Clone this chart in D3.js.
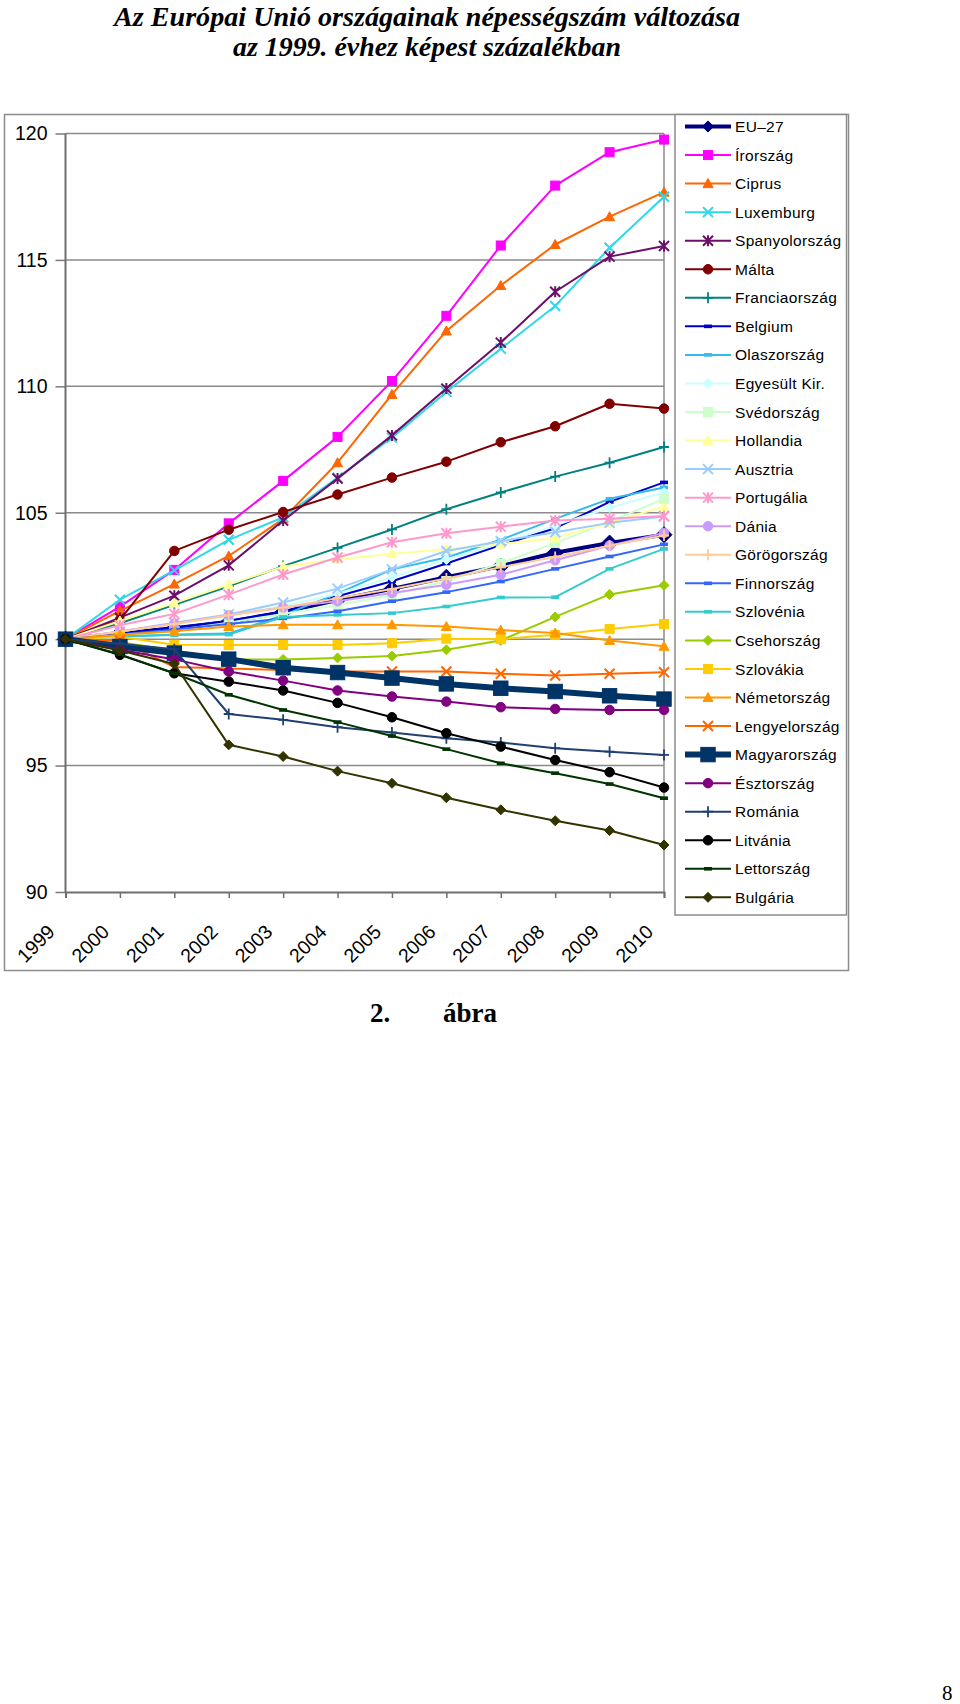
<!DOCTYPE html>
<html>
<head>
<meta charset="utf-8">
<script src="https://cdn.jsdelivr.net/npm/d3@7/dist/d3.min.js"></script>
<style>
  html, body { margin: 0; padding: 0; background: #fff; }
  svg { display: block; }
</style>
</head>
<body>
<svg id="chart" width="960" height="1704"></svg>
<script>
// ---------------- DATA ----------------
const years = ["1999","2000","2001","2002","2003","2004","2005","2006","2007","2008","2009","2010"];
const yTicks = [90, 95, 100, 105, 110, 115, 120];

const seriesNames = ["EU–27","Írország","Ciprus","Luxemburg","Spanyolország","Málta","Franciaország",
  "Belgium","Olaszország","Egyesült Kir.","Svédország","Hollandia","Ausztria","Portugália","Dánia",
  "Görögország","Finnország","Szlovénia","Csehország","Szlovákia","Németország","Lengyelország",
  "Magyarország","Észtország","Románia","Litvánia","Lettország","Bulgária"];

const eu27      = [100, 100.23, 100.43, 100.68, 101.07, 101.55, 101.99, 102.45, 102.89, 103.42, 103.80, 104.13];
const irorszag  = [100, 101.29, 102.74, 104.58, 106.26, 108.00, 110.21, 112.79, 115.57, 117.94, 119.26, 119.76];
const ciprus    = [100, 101.12, 102.18, 103.29, 104.76, 106.98, 109.68, 112.19, 113.99, 115.61, 116.71, 117.68];
const luxemburg = [100, 101.56, 102.72, 103.93, 104.82, 106.39, 107.97, 109.78, 111.49, 113.18, 115.48, 117.50];
const spanyol   = [100, 100.85, 101.72, 102.92, 104.69, 106.35, 108.06, 109.91, 111.73, 113.74, 115.13, 115.55];
const malta     = [100, 100.76, 103.49, 104.33, 105.03, 105.72, 106.39, 107.02, 107.79, 108.42, 109.31, 109.12];
const francia   = [100, 100.63, 101.36, 102.09, 102.89, 103.61, 104.34, 105.14, 105.80, 106.43, 106.98, 107.60];
const belgium   = [100, 100.22, 100.45, 100.73, 101.09, 101.70, 102.29, 102.99, 103.72, 104.39, 105.43, 106.20];
const olasz     = [100, 100.10, 100.18, 100.22, 100.95, 101.80, 102.76, 103.23, 103.93, 104.76, 105.55, 106.00];
const egyesult  = [100, 100.30, 100.60, 100.95, 101.30, 101.80, 102.45, 103.15, 103.80, 104.50, 105.20, 105.80];
const sved      = [100, 100.10, 100.35, 100.65, 101.00, 101.35, 101.75, 102.30, 103.00, 103.80, 104.65, 105.55];
const holland   = [100, 100.72, 101.43, 102.16, 102.87, 103.15, 103.38, 103.56, 103.76, 104.00, 104.60, 105.25];
const ausztria  = [100, 100.30, 100.65, 100.98, 101.45, 102.00, 102.76, 103.49, 103.87, 104.23, 104.60, 104.85];
const portugal  = [100, 100.55, 101.00, 101.76, 102.56, 103.23, 103.83, 104.19, 104.45, 104.69, 104.76, 104.87];
const dania     = [100, 100.30, 100.62, 100.95, 101.25, 101.50, 101.83, 102.15, 102.55, 103.12, 103.70, 104.20];
const gorog     = [100, 100.30, 100.60, 100.95, 101.25, 101.62, 101.98, 102.40, 102.85, 103.25, 103.70, 104.10];
const finn      = [100, 100.18, 100.38, 100.60, 100.82, 101.10, 101.50, 101.86, 102.28, 102.78, 103.27, 103.75];
const szloven   = [100, 100.12, 100.16, 100.18, 100.88, 100.96, 101.03, 101.29, 101.65, 101.66, 102.78, 103.57];
const cseh      = [100, 99.88, 99.55, 99.20, 99.20, 99.26, 99.33, 99.58, 99.95, 100.88, 101.77, 102.13];
const szlovak   = [100, 100.10, 99.78, 99.77, 99.77, 99.77, 99.84, 100.02, 100.00, 100.17, 100.40, 100.60];
const nemet     = [100, 100.17, 100.31, 100.50, 100.57, 100.57, 100.57, 100.50, 100.36, 100.24, 99.95, 99.72];
const lengyel   = [100, 99.95, 98.90, 98.84, 98.78, 98.72, 98.72, 98.72, 98.63, 98.56, 98.63, 98.69];
const magyar    = [100, 99.71, 99.45, 99.21, 98.87, 98.68, 98.46, 98.23, 98.06, 97.93, 97.76, 97.63];
const esztor    = [100, 99.58, 99.20, 98.72, 98.36, 97.97, 97.73, 97.53, 97.31, 97.24, 97.20, 97.20];
const roman     = [100, 99.82, 99.60, 97.04, 96.81, 96.52, 96.31, 96.08, 95.91, 95.69, 95.55, 95.42];
const litvan    = [100, 99.38, 98.65, 98.32, 97.97, 97.48, 96.91, 96.28, 95.75, 95.22, 94.74, 94.13];
const letto     = [100, 99.40, 98.65, 97.80, 97.20, 96.72, 96.17, 95.65, 95.09, 94.70, 94.27, 93.71];
const bulgar    = [100, 99.55, 99.02, 95.82, 95.36, 94.78, 94.30, 93.73, 93.25, 92.82, 92.43, 91.86];

const seriesValues = [eu27, irorszag, ciprus, luxemburg, spanyol, malta, francia, belgium, olasz,
  egyesult, sved, holland, ausztria, portugal, dania, gorog, finn, szloven, cseh, szlovak, nemet,
  lengyel, magyar, esztor, roman, litvan, letto, bulgar];

// ---------------- STYLES ----------------
const seriesColors = ["#000080","#FF00FF","#FF6600","#2ED8E8","#6B0F6B","#800000","#008080",
  "#0000CC","#33BBEE","#CCFFFF","#CCFFCC","#FFFF99","#99CCFF","#FF99CC","#CC99FF",
  "#FFCC99","#3366FF","#33CCCC","#99CC00","#FFCC00","#FF9900","#FF6600",
  "#003366","#800080","#1F4070","#000000","#003300","#333300"];
const seriesMarkers = ["diamond","square","triangle","x","star","circle","plus",
  "dash","dash","diamond","square","triangle","x","star","circle",
  "plus","dash","dash","diamond","square","triangle","x",
  "square","circle","plus","circle","dash","diamond"];
const seriesWidths = seriesNames.map((n,i) => i === 0 ? 4 : (i === 22 ? 6 : 2));
const markerSizes  = seriesNames.map((n,i) => (i === 0 || i === 22) ? 16 : 10);

// ---------------- LAYOUT ----------------
const svg = d3.select("#chart");
svg.append("rect").attr("width", 960).attr("height", 1704).attr("fill", "#fff");

const plotL = 65.5, plotR = 664, plotT = 133.5, plotB = 892;
const x = d3.scalePoint().domain(years).range([plotL, plotR]);
const y = d3.scaleLinear().domain([90, 120]).range([plotB, plotT]);

// Title
const titleFont = "'Liberation Serif','Times New Roman',serif";
svg.append("text").attr("x", 427).attr("y", 26).attr("text-anchor", "middle")
  .attr("font-family", titleFont).attr("font-weight", "bold").attr("font-style", "italic")
  .attr("font-size", 28).attr("textLength", 626).attr("lengthAdjust", "spacingAndGlyphs")
  .text("Az Európai Unió országainak népességszám változása");
svg.append("text").attr("x", 427).attr("y", 56).attr("text-anchor", "middle")
  .attr("font-family", titleFont).attr("font-weight", "bold").attr("font-style", "italic")
  .attr("font-size", 28).attr("textLength", 388).attr("lengthAdjust", "spacingAndGlyphs")
  .text("az 1999. évhez képest százalékban");

// Chart outer border
svg.append("rect").attr("x", 4.5).attr("y", 114.5).attr("width", 844).attr("height", 856)
  .attr("fill", "none").attr("stroke", "#8c8c8c").attr("stroke-width", 1.5);

// Gridlines + y axis
const gy = svg.append("g").attr("transform", `translate(${plotL},0)`)
  .call(d3.axisLeft(y).tickValues(yTicks).tickSize(10).tickFormat(d3.format("d")));
gy.select(".domain").remove();
gy.selectAll(".tick line").attr("stroke", "#7a7a7a").attr("stroke-width", 1.5);
gy.selectAll(".tick text").attr("x", -18).attr("font-family", "'Liberation Sans',Arial,sans-serif")
  .attr("font-size", 19.5).attr("fill", "#000");
svg.append("g").selectAll("line").data(yTicks.filter(t => t > 90)).join("line")
  .attr("x1", plotL).attr("x2", plotR).attr("y1", d => y(d)).attr("y2", d => y(d))
  .attr("stroke", "#8a8a8a").attr("stroke-width", 1.5);
// right border of plot area
svg.append("line").attr("x1", plotR).attr("x2", plotR).attr("y1", plotT).attr("y2", plotB)
  .attr("stroke", "#8a8a8a").attr("stroke-width", 1.5);
// y axis line
svg.append("line").attr("x1", plotL).attr("x2", plotL).attr("y1", plotT).attr("y2", plotB)
  .attr("stroke", "#6e6e6e").attr("stroke-width", 2);

// x axis
const gx = svg.append("g").attr("transform", `translate(0,${plotB})`)
  .call(d3.axisBottom(x).tickSize(6));
gx.select(".domain").attr("stroke", "#6e6e6e").attr("stroke-width", 2);
gx.selectAll(".tick line").attr("stroke", "#6e6e6e").attr("stroke-width", 1.5);
gx.selectAll(".tick text").attr("font-family", "'Liberation Sans',Arial,sans-serif")
  .attr("font-size", 19.5).attr("fill", "#000")
  .attr("text-anchor", "end").attr("dy", null).attr("y", null)
  .attr("transform", "translate(-10,41) rotate(-45)");

// Marker drawing
function drawMarker(g, type, color, size, cx, cy) {
  const s = size / 2;
  if (type === "square") {
    g.append("rect").attr("x", cx - s * 0.9).attr("y", cy - s * 0.9)
      .attr("width", s * 1.8).attr("height", s * 1.8).attr("fill", color).attr("stroke", color);
  } else if (type === "diamond") {
    g.append("path").attr("d", `M${cx},${cy - s}L${cx + s},${cy}L${cx},${cy + s}L${cx - s},${cy}Z`)
      .attr("fill", color).attr("stroke", color);
  } else if (type === "triangle") {
    g.append("path").attr("d", `M${cx},${cy - s}L${cx + s},${cy + s * 0.8}L${cx - s},${cy + s * 0.8}Z`)
      .attr("fill", color).attr("stroke", color);
  } else if (type === "circle") {
    g.append("circle").attr("cx", cx).attr("cy", cy).attr("r", s * 0.95)
      .attr("fill", color).attr("stroke", color);
  } else if (type === "x" || type === "star") {
    g.append("path").attr("d", `M${cx - s},${cy - s}L${cx + s},${cy + s}M${cx - s},${cy + s}L${cx + s},${cy - s}`
      + (type === "star" ? `M${cx},${cy - s * 1.1}L${cx},${cy + s * 1.1}` : ""))
      .attr("stroke", color).attr("stroke-width", 2).attr("fill", "none");
  } else if (type === "plus") {
    g.append("path").attr("d", `M${cx - s},${cy}L${cx + s},${cy}M${cx},${cy - s * 1.1}L${cx},${cy + s * 1.1}`)
      .attr("stroke", color).attr("stroke-width", 1.8).attr("fill", "none");
  } else if (type === "dash") {
    g.append("rect").attr("x", cx - s * 0.8).attr("y", cy - 1.8)
      .attr("width", s * 1.6).attr("height", 3.6).attr("fill", color);
  }
}

// Series
const line = d3.line().x((d, i) => x(years[i])).y(d => y(d));
const plotG = svg.append("g");
seriesValues.forEach((vals, k) => {
  const g = plotG.append("g");
  g.append("path").attr("d", line(vals)).attr("fill", "none")
    .attr("stroke", seriesColors[k]).attr("stroke-width", seriesWidths[k])
    .attr("stroke-linejoin", "round");
  vals.forEach((v, i) => drawMarker(g, seriesMarkers[k], seriesColors[k], markerSizes[k], x(years[i]), y(v)));
});

// Legend
svg.append("rect").attr("x", 675).attr("y", 114.5).attr("width", 171.5).attr("height", 800.5)
  .attr("fill", "#fff").attr("stroke", "#8c8c8c").attr("stroke-width", 1.5);
const legG = svg.append("g");
seriesNames.forEach((name, k) => {
  const ly = 126.5 + k * 28.55;
  const g = legG.append("g");
  g.append("line").attr("x1", 685).attr("x2", 731).attr("y1", ly).attr("y2", ly)
    .attr("stroke", seriesColors[k]).attr("stroke-width", seriesWidths[k]);
  drawMarker(g, seriesMarkers[k], seriesColors[k], markerSizes[k] * (k === 0 ? 0.7 : 1), 708, ly);
  g.append("text").attr("x", 735).attr("y", ly).attr("dy", "0.36em")
    .attr("font-family", "'Liberation Sans',Arial,sans-serif").attr("font-size", 15.5)
    .attr("letter-spacing", 0.3)
    .attr("fill", "#000").text(name);
});

// Caption
const capFont = "'Liberation Serif','Times New Roman',serif";
svg.append("text").attr("x", 370).attr("y", 1022).attr("font-family", capFont)
  .attr("font-weight", "bold").attr("font-size", 27).text("2.");
svg.append("text").attr("x", 443).attr("y", 1022).attr("font-family", capFont)
  .attr("font-weight", "bold").attr("font-size", 27).text("ábra");

// Page number
svg.append("text").attr("x", 942).attr("y", 1700).attr("font-family", capFont)
  .attr("font-size", 21).text("8");
</script>
</body>
</html>
